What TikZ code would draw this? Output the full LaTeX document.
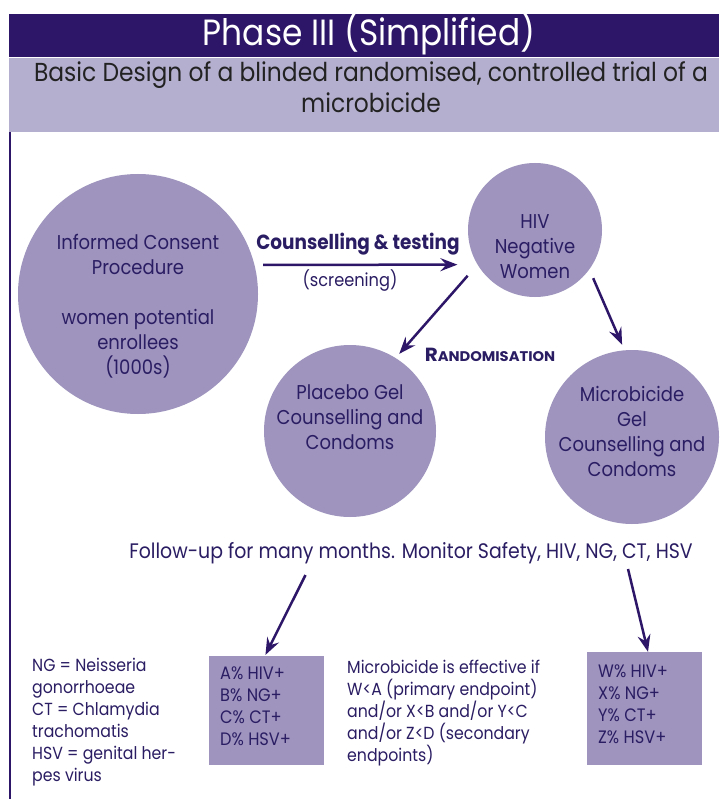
\documentclass[tikz,border=0pt]{standalone}
\usepackage{fontspec}
\setmainfont{Poppins}[FakeStretch=0.9]
\newfontfamily\randfont{Poppins}[FakeStretch=1.05]
\usetikzlibrary{arrows.meta,calc}
\definecolor{barc}{HTML}{2D1667}
\definecolor{bandc}{HTML}{B5AFCF}
\definecolor{fillc}{HTML}{9E94BE}
\definecolor{txtc}{HTML}{2B1D63}
\definecolor{subc}{HTML}{222222}
\begin{document}
\begin{tikzpicture}[x=1pt,y=-1pt,
  circ/.style={circle,fill=fillc,draw=none,inner sep=0pt},
  ctext/.style={text=txtc,align=center,inner sep=0pt,font=\fontsize{20}{25}\selectfont},
  btext/.style={text=txtc,align=left,inner sep=0pt,anchor=north west,font=\fontsize{18}{21.7}\selectfont},
  ltext/.style={text=txtc,align=left,inner sep=0pt,anchor=north west,font=\fontsize{17.5}{22}\selectfont},
  pbox/.style={fill=fillc,draw=none},
  arr/.style={draw=barc,line width=2.5pt,-{Stealth[length=17pt,width=13pt,inset=6pt]}}]
\useasboundingbox (0,0) rectangle (719,799);
\fill[white] (0,0) rectangle (719,799);
% header
\fill[barc] (9,14) rectangle (719,57);
\fill[bandc] (9,58) rectangle (719,132);
\draw[barc,line width=1.5pt] (10,132) -- (10,799);
\node[anchor=base,text=white,inner sep=0pt,font=\fontsize{36.5}{40}\selectfont] (title) at (369,46) {Phase III (Simplified)};
\node[anchor=base,text=subc,inner sep=0pt,font=\fontsize{26}{31}\selectfont] (sub1) at (371,82) {Basic Design of a blinded randomised, controlled trial of a};
\node[anchor=base,text=subc,inner sep=0pt,font=\fontsize{26}{31}\selectfont] (sub2) at (371,113) {microbicide};
% circles
\node[circ,minimum size=240pt] (big) at (138,294) {};
\node[circ,minimum size=134pt] (hiv) at (535,230) {};
\node[circ,minimum size=172pt] (plac) at (350,431) {};
\node[circ,minimum size=174pt] (micro) at (632,437) {};
\node[ctext] (bigtxt) at (138,306.5) {Informed Consent\\Procedure\\[25pt]women potential\\enrollees\\(1000s)};
\node[ctext] (hivtxt) at (535,247) {HIV\\Negative\\Women};
\node[ctext] (plactxt) at (350,417) {Placebo Gel\\Counselling and\\Condoms};
\node[ctext] (microtxt) at (632,431) {Microbicide\\Gel\\Counselling and\\Condoms};
% labels
\node[anchor=base,text=txtc,inner sep=0pt,font=\bfseries\fontsize{20.5}{24}\selectfont] (couns) at (358,250) {Counselling \& testing};
\node[anchor=base,text=txtc,inner sep=0pt,font=\fontsize{18}{22}\selectfont] (screen) at (350,286) {(screening)};
\node[anchor=base,text=txtc,inner sep=0pt,font=\randfont\bfseries\fontsize{14}{16}\selectfont] (rand) at (490,361) {{\fontsize{19}{20}\selectfont R}ANDOMISATION};
\node[anchor=base,text=txtc,inner sep=0pt,font=\fontsize{21}{24}\selectfont] (follow) at (411,558) {Follow-up for many months. Monitor Safety, HIV, NG, CT, HSV};
% arrows between circles
\draw[arr,shorten <=8.6pt,shorten >=20pt] (big.14) -- (hiv.211.5);
\draw[arr,shorten <=14.8pt,shorten >=5.4pt] (hiv.211.4) -- (plac.58);
\draw[arr,shorten <=9.5pt,shorten >=5.8pt] (hiv.-36) -- (micro.95);
% bottom boxes
\node[pbox,minimum width=115pt,minimum height=109pt,inner sep=0pt] (lbox) at (266.5,710.5) {};
\node[pbox,minimum width=115pt,minimum height=113pt,inner sep=0pt] (rbox) at (644.5,708.5) {};
\node[btext] (ltxt) at (220,667) {A\% HIV+\\B\% NG+\\C\% CT+\\D\% HSV+};
\node[btext] (rtxt) at (598,665) {W\% HIV+\\X\% NG+\\Y\% CT+\\Z\% HSV+};
\node[ltext] (legend) at (32,658) {NG = Neisseria\\gonorrhoeae\\CT = Chlamydia\\trachomatis\\HSV = genital her-\\pes virus};
\node[ltext] (effect) at (347,660) {Microbicide is effective if\\W<A (primary endpoint)\\and/or X<B and/or Y<C\\and/or Z<D (secondary\\endpoints)};
% follow-up arrows
\coordinate (f1) at (305.5,575);
\coordinate (f2) at (628,569);
\draw[arr,shorten >=1pt] (f1) -- ($(lbox.north)+(-1.5,0)$);
\draw[arr] (f2) -- ($(rbox.north)+(3.5,0)$);
\end{tikzpicture}
\end{document}
